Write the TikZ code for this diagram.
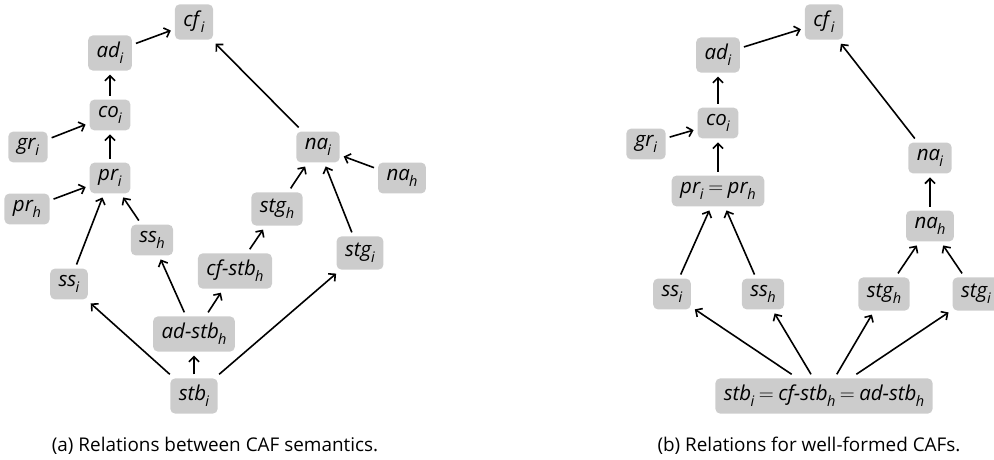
\documentclass[tikz,border=0pt]{standalone}
\usepackage{fontspec}
\setmainfont{Open Sans}
\usetikzlibrary{arrows.meta}
\definecolor{boxgray}{RGB}{204,204,204}
\newcommand\lb[2]{\textit{#1}\kern-0.8pt\raisebox{-0.28em}{\fontsize{14.5}{15}\selectfont\textit{#2}}}
\newcommand\eqs{\kern4.5pt$=$\kern4.5pt}
\tikzset{
  sem/.style={fill=boxgray, rounded corners=5pt, inner xsep=8.5pt, inner ysep=7pt, outer sep=4pt,
    font=\fontsize{20.5}{24}\selectfont},
  rel/.style={-{Straight Barb[length=5pt,width=10pt]}, line width=1.6pt},
  capt/.style={font=\fontsize{18.9}{22}\selectfont}
}
\begin{document}
\begin{tikzpicture}[x=1pt,y=-1pt]
\useasboundingbox (0,0) rectangle (994,460);
% ---- (a) ----
\node[sem] (cfi) at (194,22) {\lb{cf}{i}};
\node[sem] (adi) at (110,53) {\lb{ad}{i}};
\node[sem] (coi) at (110,115) {\lb{co}{i}};
\node[sem] (gri) at (28,147) {\lb{gr}{i}};
\node[sem] (pri) at (110,178) {\lb{pr}{i}};
\node[sem] (prh) at (27,209) {\lb{pr}{h}};
\node[sem] (nai) at (318,147) {\lb{na}{i}};
\node[sem] (nah) at (402,178) {\lb{na}{h}};
\node[sem] (stgh) at (277,209) {\lb{stg}{h}};
\node[sem] (ssh) at (152,240) {\lb{ss}{h}};
\node[sem] (ssi) at (69,284) {\lb{ss}{i}};
\node[sem] (cfstb) at (235,271) {\lb{cf-stb}{h}};
\node[sem] (stgi) at (360,253) {\lb{stg}{i}};
\node[sem] (adstb) at (194,334) {\lb{ad-stb}{h}};
\node[sem] (stbi) at (194,396) {\lb{stb}{i}};
\node[capt] (capa) at (215,446) {(a) Relations between CAF semantics.};
\draw[rel] (adi) -- (cfi);
\draw[rel] (coi) -- (adi);
\draw[rel] (gri) -- (coi);
\draw[rel] (pri) -- (coi);
\draw[rel] (prh) -- (pri);
\draw[rel] (ssi) -- (pri);
\draw[rel] (ssh) -- (pri);
\draw[rel] (nai) -- (cfi);
\draw[rel] (nah) -- (nai);
\draw[rel] (stgh) -- (nai);
\draw[rel] (stgi) -- (nai);
\draw[rel] (stbi) -- (ssi);
\draw[rel] (stbi) -- (adstb);
\draw[rel] (stbi) -- (stgi);
\draw[rel] (adstb) -- (ssh);
\draw[rel] (adstb) -- (cfstb);
\draw[rel] (cfstb) -- (stgh);
% ---- (b) ----
\node[sem] (bcfi) at (824,22) {\lb{cf}{i}};
\node[sem] (badi) at (718,55) {\lb{ad}{i}};
\node[sem] (bcoi) at (718,123) {\lb{co}{i}};
\node[sem] (bgri) at (646,144) {\lb{gr}{i}};
\node[sem] (bpr) at (718,191) {\lb{pr}{i}\eqs\lb{pr}{h}};
\node[sem] (bnai) at (930,158) {\lb{na}{i}};
\node[sem] (bnah) at (930,226) {\lb{na}{h}};
\node[sem] (bssi) at (672,294) {\lb{ss}{i}};
\node[sem] (bssh) at (763,294) {\lb{ss}{h}};
\node[sem] (bstgh) at (884,294) {\lb{stg}{h}};
\node[sem] (bstgi) at (976,294) {\lb{stg}{i}};
\node[sem] (bstb) at (824,396) {\lb{stb}{i}\eqs\lb{cf-stb}{h}\eqs\lb{ad-stb}{h}};
\node[capt] (capb) at (809,446) {(b) Relations for well-formed CAFs.};
\draw[rel] (badi) -- (bcfi);
\draw[rel] (bcoi) -- (badi);
\draw[rel] (bgri) -- (bcoi);
\draw[rel] (bpr) -- (bcoi);
\draw[rel] (bssi) -- (bpr);
\draw[rel] (bssh) -- (bpr);
\draw[rel] (bnai) -- (bcfi);
\draw[rel] (bnah) -- (bnai);
\draw[rel] (bstgh) -- (bnah);
\draw[rel] (bstgi) -- (bnah);
\draw[rel] (bstb) -- (bssi);
\draw[rel] (bstb) -- (bssh);
\draw[rel] (bstb) -- (bstgh);
\draw[rel] (bstb) -- (bstgi);
\end{tikzpicture}
\end{document}
